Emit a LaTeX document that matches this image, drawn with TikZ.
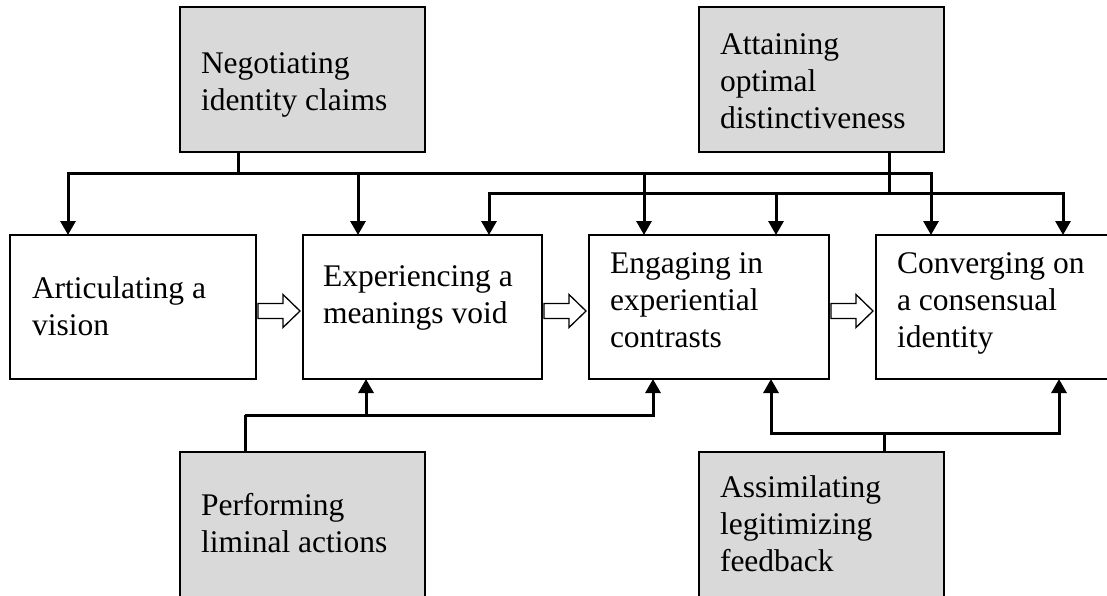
\documentclass[tikz,border=0pt]{standalone}
\usepackage{fontspec}
\setmainfont{Liberation Serif}
\usetikzlibrary{arrows.meta,calc}
\definecolor{boxgray}{RGB}{217,217,217}
\newcommand\mystrut{\rule{0pt}{26pt}}
\begin{document}
\begin{tikzpicture}[x=1pt,y=-1pt,
  stagebox/.style={draw, line width=1.2pt, inner sep=0pt, outer sep=0pt, anchor=north west},
  graybox/.style={stagebox, fill=boxgray},
  whitebox/.style={stagebox, fill=white},
  lbl/.style={inner sep=0pt, outer sep=0pt, anchor=north west, align=left, font=\fontsize{31.5}{37}\selectfont},
  conn/.style={line width=3pt, line join=miter},
  arr/.style={conn, -{Triangle[length=14pt,width=15pt]}},
  hollow/.style={draw, fill=white, line width=1.3pt, line join=miter},
  hollowarrow/.pic={\draw[hollow] (0,-7.5) -- (25,-7.5) -- (25,-16.5) -- (42,0) -- (25,16.5) -- (25,7.5) -- (0,7.5) -- cycle;}
]
\useasboundingbox (0,0) rectangle (1107,595);

% boxes
\node[graybox, minimum width=245pt, minimum height=145pt] (neg) at (180,7) {};
\node[graybox, minimum width=245pt, minimum height=145pt] (att) at (699,7) {};
\node[whitebox, minimum width=246pt, minimum height=144pt] (art) at (10,235) {};
\node[whitebox, minimum width=239pt, minimum height=144pt] (exp) at (303,235) {};
\node[whitebox, minimum width=240pt, minimum height=144pt] (eng) at (589,235) {};
\node[whitebox, minimum width=236pt, minimum height=144pt] (con) at (876,235) {};
\node[graybox, minimum width=245pt, minimum height=160pt] (per) at (180,452) {};
\node[graybox, minimum width=245pt, minimum height=160pt] (ass) at (699,452) {};

% labels
\node[lbl] (negT) at (201,47) {\mystrut Negotiating\\identity claims};
\node[lbl] (attT) at (720,28) {\mystrut Attaining\\optimal\\distinctiveness};
\node[lbl] (artT) at (32,272) {\mystrut Articulating a\\vision};
\node[lbl] (expT) at (323,260) {\mystrut Experiencing a\\meanings void};
\node[lbl] (engT) at (610,247) {\mystrut Engaging in\\experiential\\contrasts};
\node[lbl] (conT) at (897,247) {\mystrut Converging on\\a consensual\\identity};
\node[lbl] (perT) at (201,489) {\mystrut Performing\\liminal actions};
\node[lbl] (assT) at (720,471) {\mystrut Assimilating\\legitimizing\\feedback};

% junction points
\coordinate (jA) at ($(neg.south west)+(58,21)$);
\coordinate (jB) at ($(att.south west)+(190,41)$);
\coordinate (jC) at ($(per.north west)+(65,-37)$);
\coordinate (jD) at ($(ass.north west)+(185,-19)$);

% from Negotiating identity claims
\draw[conn] ($(neg.south west)+(58,0)$) -- (jA);
\draw[arr] (jA) -| ($(art.north west)+(58,0)$);
\draw[arr] (jA) -| ($(exp.north west)+(55,0)$);
\draw[arr] (jA) -| ($(eng.north west)+(55,0)$);
\draw[arr] (jA) -| ($(con.north west)+(55,0)$);

% from Attaining optimal distinctiveness
\draw[conn] ($(att.south west)+(190,0)$) -- (jB);
\draw[arr] (jB) -| ($(exp.north west)+(186,0)$);
\draw[arr] (jB) -| ($(eng.north west)+(187,0)$);
\draw[arr] (jB) -| ($(con.north west)+(187,0)$);

% from Performing liminal actions
\draw[conn] ($(per.north west)+(65,0)$) -- (jC);
\draw[arr] (jC) -| ($(exp.south west)+(63,0)$);
\draw[arr] (jC) -| ($(eng.south west)+(64,0)$);

% from Assimilating legitimizing feedback
\draw[conn] ($(ass.north west)+(185,0)$) -- (jD);
\draw[arr] (jD) -| ($(eng.south west)+(182,0)$);
\draw[arr] (jD) -| ($(con.south west)+(183,0)$);

% hollow process arrows
\pic at ($(art.east)+(2,4)$) {hollowarrow};
\pic at ($(exp.east)+(2,4)$) {hollowarrow};
\pic at ($(eng.east)+(2,4)$) {hollowarrow};
\end{tikzpicture}
\end{document}
